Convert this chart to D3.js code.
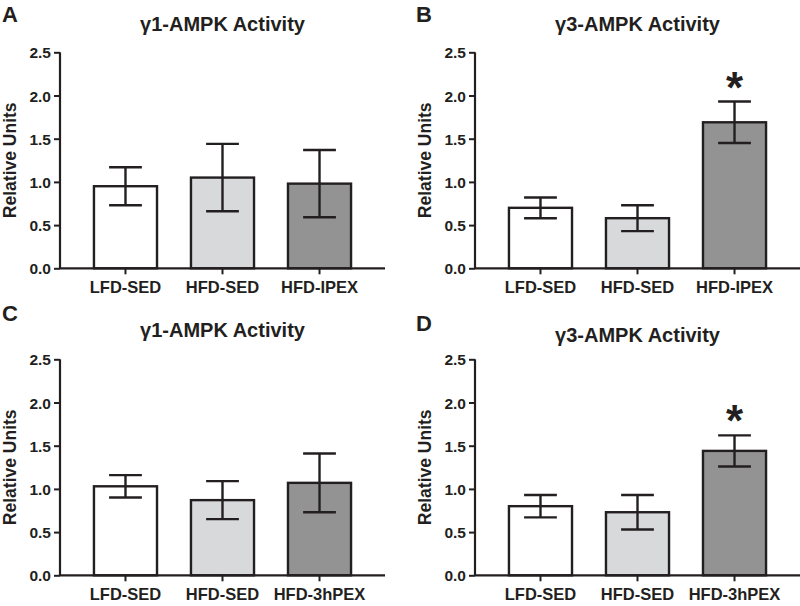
<!DOCTYPE html>
<html>
<head>
<meta charset="utf-8">
<script src="https://cdn.jsdelivr.net/npm/d3@7"></script>
<style>
  html, body { margin: 0; padding: 0; background: #fff; }
  svg { display: block; }
  text { font-family: "Liberation Sans", Arial, Helvetica, sans-serif; font-weight: bold; fill: #231f20; }
</style>
</head>
<body>
<svg id="chart" width="800" height="606"></svg>
<script>
// ---- Data ----
const panelLetters = ["A", "B", "C", "D"];
const panelTitles = ["γ1-AMPK Activity", "γ3-AMPK Activity", "γ1-AMPK Activity", "γ3-AMPK Activity"];
const categoriesIPEX = ["LFD-SED", "HFD-SED", "HFD-IPEX"];
const categories3hPEX = ["LFD-SED", "HFD-SED", "HFD-3hPEX"];
const meansA = [0.95, 1.05, 0.98];
const semA   = [0.22, 0.39, 0.39];
const meansB = [0.70, 0.58, 1.69];
const semB   = [0.12, 0.15, 0.24];
const meansC = [1.03, 0.87, 1.07];
const semC   = [0.13, 0.22, 0.34];
const meansD = [0.80, 0.73, 1.44];
const semD   = [0.13, 0.20, 0.18];
const significantB = [false, false, true];
const significantD = [false, false, true];
const yTicks = [0.0, 0.5, 1.0, 1.5, 2.0, 2.5];
const yLabel = "Relative Units";
const barFills = ["#ffffff", "#d8d9db", "#939393"];

// ---- Layout ----
const ink = "#231f20";
const svg = d3.select("#chart");
const panels = [
  { letter: panelLetters[0], title: panelTitles[0], cats: categoriesIPEX, means: meansA, sem: semA, sig: [false,false,false],
    x0: 60, x1: 385, yTop: 52.3, yBot: 268.3, letterX: 2, letterY: 22, titleY: 30.5 },
  { letter: panelLetters[1], title: panelTitles[1], cats: categoriesIPEX, means: meansB, sem: semB, sig: significantB,
    x0: 475, x1: 800, yTop: 52.3, yBot: 268.3, letterX: 416, letterY: 22, titleY: 30.5 },
  { letter: panelLetters[2], title: panelTitles[2], cats: categories3hPEX, means: meansC, sem: semC, sig: [false,false,false],
    x0: 60, x1: 385, yTop: 359.3, yBot: 575.3, letterX: 2, letterY: 321, titleY: 337 },
  { letter: panelLetters[3], title: panelTitles[3], cats: categories3hPEX, means: meansD, sem: semD, sig: significantD,
    x0: 475, x1: 800, yTop: 359.3, yBot: 575.3, letterX: 416, letterY: 331, titleY: 342 }
];

panels.forEach(p => {
  const g = svg.append("g");
  const y = d3.scaleLinear().domain([0, 2.5]).range([p.yBot, p.yTop]);
  const x = d3.scaleBand().domain(p.cats).range([p.x0, p.x1]).paddingInner(0.35).paddingOuter(0.35);

  // Panel letter
  g.append("text").attr("x", p.letterX).attr("y", p.letterY)
    .attr("font-size", 22).text(p.letter);
  // Title
  g.append("text").attr("x", (p.x0 + p.x1) / 2).attr("y", p.titleY)
    .attr("text-anchor", "middle").attr("font-size", 20).text(p.title);

  const data = p.cats.map((c, i) => ({ c, m: p.means[i], e: p.sem[i], fill: barFills[i], sig: p.sig[i] }));

  // Bars
  g.selectAll("rect.bar").data(data).enter().append("rect")
    .attr("class", "bar")
    .attr("x", d => x(d.c))
    .attr("width", x.bandwidth())
    .attr("y", d => y(d.m))
    .attr("height", d => y(0) - y(d.m))
    .attr("fill", d => d.fill)
    .attr("stroke", ink).attr("stroke-width", 2.4);

  // Error bars
  const capW = x.bandwidth() * 0.52;
  const eb = g.selectAll("g.err").data(data).enter().append("g").attr("class", "err")
    .attr("stroke", ink).attr("stroke-width", 2.4);
  eb.append("line")
    .attr("x1", d => x(d.c) + x.bandwidth() / 2).attr("x2", d => x(d.c) + x.bandwidth() / 2)
    .attr("y1", d => y(d.m - d.e)).attr("y2", d => y(d.m + d.e));
  eb.append("line")
    .attr("x1", d => x(d.c) + x.bandwidth() / 2 - capW / 2).attr("x2", d => x(d.c) + x.bandwidth() / 2 + capW / 2)
    .attr("y1", d => y(d.m + d.e)).attr("y2", d => y(d.m + d.e));
  eb.append("line")
    .attr("x1", d => x(d.c) + x.bandwidth() / 2 - capW / 2).attr("x2", d => x(d.c) + x.bandwidth() / 2 + capW / 2)
    .attr("y1", d => y(d.m - d.e)).attr("y2", d => y(d.m - d.e));

  // Significance asterisk
  g.selectAll("text.sig").data(data.filter(d => d.sig)).enter().append("text")
    .attr("class", "sig")
    .attr("x", d => x(d.c) + x.bandwidth() / 2)
    .attr("y", d => y(d.m + d.e) + 1)
    .attr("text-anchor", "middle").attr("font-size", 44).text("*");

  // Y axis
  const yAxis = g.append("g").attr("transform", `translate(${p.x0},0)`)
    .call(d3.axisLeft(y).tickValues(yTicks).tickFormat(d3.format(".1f")).tickSize(6).tickPadding(3));
  yAxis.select(".domain").attr("stroke", ink).attr("stroke-width", 2.2).attr("d", `M0,${p.yTop}V${p.yBot}`);
  yAxis.selectAll(".tick line").attr("stroke", ink).attr("stroke-width", 2);
  yAxis.selectAll(".tick text").attr("font-size", 15.5).attr("fill", ink).attr("font-weight", "bold").attr("dy", "0.36em");
  yAxis.attr("font-family", null).attr("font-size", null);

  // X axis
  const xAxis = g.append("g").attr("transform", `translate(0,${p.yBot})`)
    .call(d3.axisBottom(x).tickSize(6).tickPadding(7));
  xAxis.select(".domain").attr("stroke", ink).attr("stroke-width", 2.2).attr("d", `M${p.x0},0H${p.x1}`);
  xAxis.selectAll(".tick line").attr("stroke", ink).attr("stroke-width", 2);
  xAxis.selectAll(".tick text").attr("font-size", 16.5).attr("fill", ink).attr("font-weight", "bold");
  xAxis.attr("font-family", null).attr("font-size", null);

  // Y label
  g.append("text")
    .attr("transform", `translate(${p.x0 - 44},${(p.yTop + p.yBot) / 2}) rotate(-90)`)
    .attr("text-anchor", "middle").attr("font-size", 17.5).text(yLabel);
});
</script>
</body>
</html>
